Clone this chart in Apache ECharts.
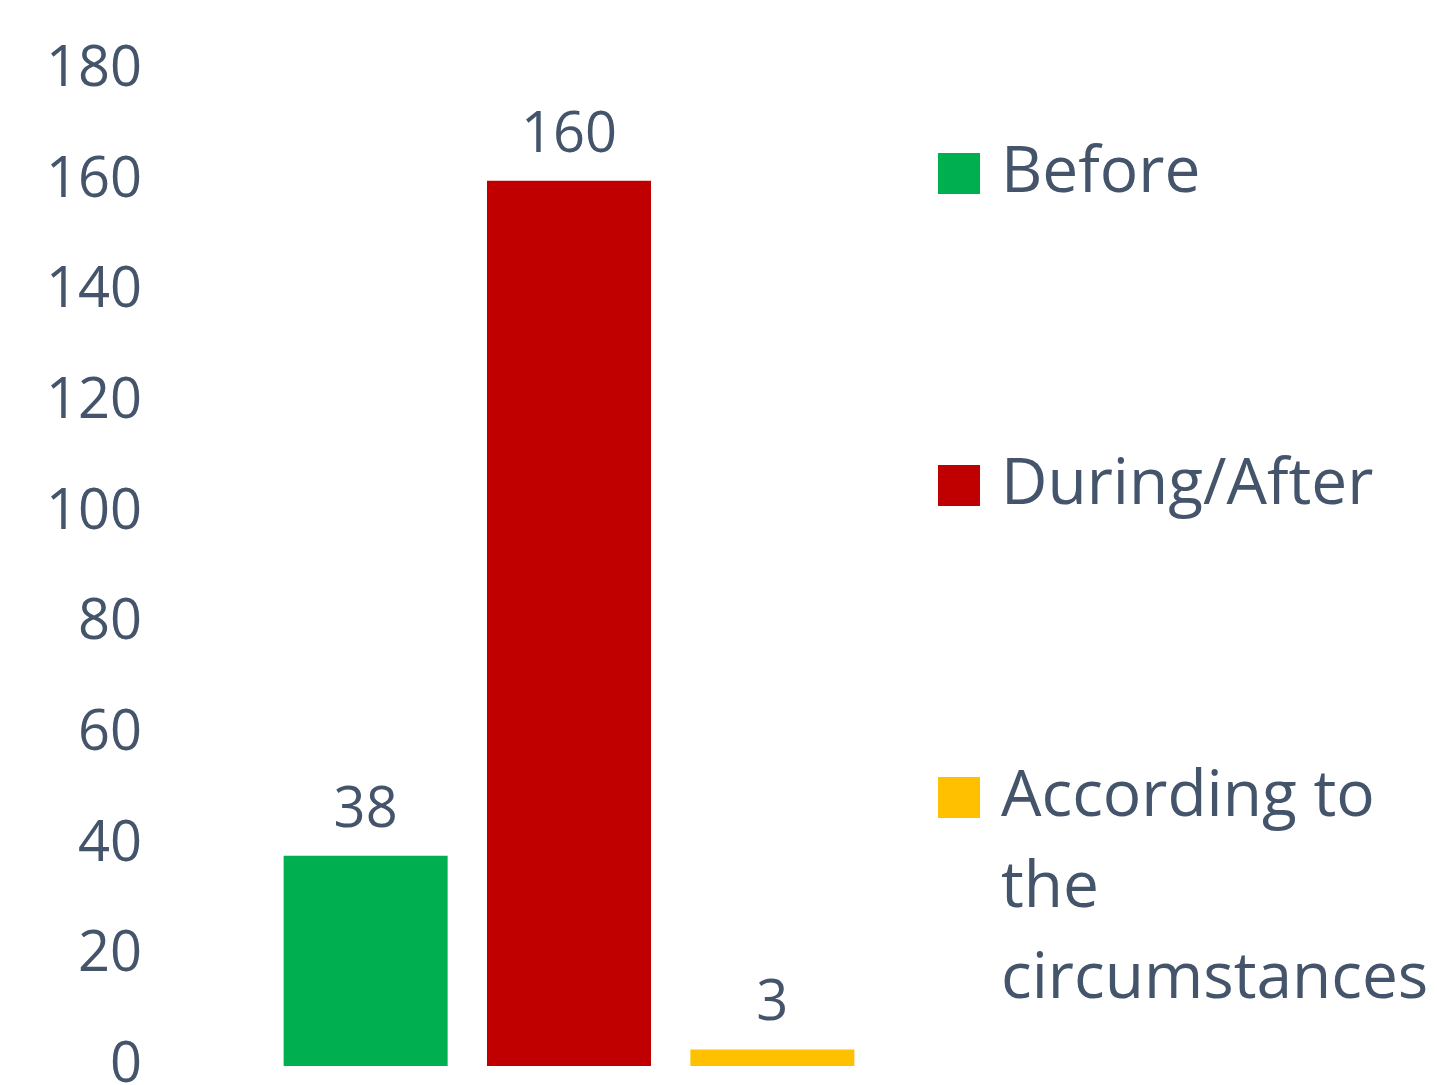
<!DOCTYPE html>
<html>
<head>
<meta charset="utf-8">
<script src="https://cdn.jsdelivr.net/npm/echarts@6/dist/echarts.min.js"></script>
<style>
  html, body { margin: 0; padding: 0; background: #fff; }
  #chart { width: 1437px; height: 1085px; }
</style>
</head>
<body>
<div id="chart"></div>
<script>
// data
const categories = ['']
const seriesNames = ['Before', 'During/After', 'According to the circumstances']
const beforeValues = [38]
const duringValues = [160]
const circumstanceValues = [3]
const yTicks = [0, 20, 40, 60, 80, 100, 120, 140, 160, 180]

const textColor = '#44546A'
const font = '"Open Sans", sans-serif'
const colors = ['#00B050', '#C00000', '#FFC000']

const chart = echarts.init(document.getElementById('chart'))

const labelStyle = {
  show: true,
  position: 'top',
  distance: 17,
  color: textColor,
  fontFamily: font,
  fontSize: 56
}

// the long name wraps; two empty lines in front keep its first line level with the icon
function legendText (n) {
  return n === 'According to the circumstances' ? '\n\nAccording to\nthe\ncircumstances' : n
}

function makeLegend (name, top) {
  return {
    data: [name],
    orient: 'vertical',
    left: 938,
    top: top,
    padding: 0,
    icon: 'rect',
    itemWidth: 42,
    itemHeight: 41,
    selectedMode: false,
    formatter: legendText,
    textStyle: {
      color: textColor,
      fontFamily: font,
      fontSize: 64,
      lineHeight: 91,
      padding: [0, 0, 0, 16]
    }
  }
}

chart.setOption({
  backgroundColor: '#fff',
  animation: false,
  grid: {
    left: 200,
    right: 499,
    top: 70,
    bottom: 19,
    outerBoundsMode: 'none'
  },
  legend: [
    makeLegend(seriesNames[0], 128),
    makeLegend(seriesNames[1], 440),
    makeLegend(seriesNames[2], 570)
  ],
  xAxis: {
    type: 'category',
    data: categories,
    axisLine: { show: false },
    axisTick: { show: false },
    axisLabel: { show: false }
  },
  yAxis: {
    type: 'value',
    min: yTicks[0],
    max: yTicks[yTicks.length - 1],
    interval: 20,
    splitLine: { show: false },
    axisLine: { show: false },
    axisTick: { show: false },
    axisLabel: {
      margin: 58,
      color: textColor,
      fontFamily: font,
      fontSize: 56
    }
  },
  series: [
    {
      name: seriesNames[0],
      type: 'bar',
      data: beforeValues,
      barWidth: 164,
      barGap: '24%',
      itemStyle: { color: colors[0] },
      label: labelStyle
    },
    {
      name: seriesNames[1],
      type: 'bar',
      data: duringValues,
      barWidth: 164,
      barGap: '24%',
      itemStyle: { color: colors[1] },
      label: labelStyle
    },
    {
      name: seriesNames[2],
      type: 'bar',
      data: circumstanceValues,
      barWidth: 164,
      barGap: '24%',
      itemStyle: { color: colors[2] },
      label: labelStyle
    }
  ]
})
</script>
</body>
</html>
